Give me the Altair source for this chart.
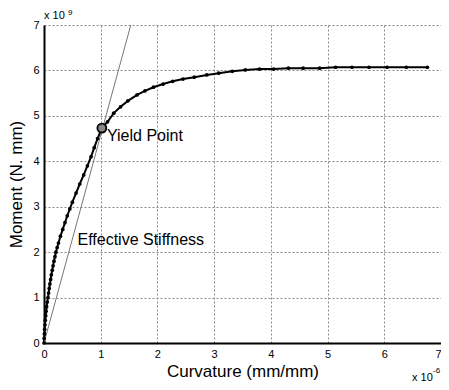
import altair as alt
import pandas as pd

# Moment-curvature curve (x in 1e-6 mm/mm, y in 1e9 N.mm)
curv = [0, 0.003, 0.007, 0.012, 0.017, 0.023, 0.03, 0.037, 0.046, 0.057, 0.07,
        0.081, 0.092, 0.104, 0.117, 0.13, 0.145, 0.16, 0.176, 0.193, 0.21,
        0.232, 0.255, 0.29, 0.33, 0.37, 0.41, 0.455, 0.50, 0.565, 0.63, 0.70,
        0.765, 0.83, 0.885, 0.945, 1.02,
        1.12, 1.23, 1.35, 1.48, 1.64, 1.78, 1.93, 2.10, 2.27, 2.45, 2.65, 2.87,
        3.08, 3.32, 3.55, 3.80, 4.05, 4.31, 4.57, 4.86, 5.14, 5.43, 5.73, 6.05,
        6.39, 6.76]
moment = [0, 0.1, 0.2, 0.3, 0.4, 0.5, 0.6, 0.7, 0.8, 0.9, 1.0,
          1.1, 1.2, 1.3, 1.4, 1.5, 1.6, 1.7, 1.8, 1.9, 2.0,
          2.1, 2.2, 2.35, 2.5, 2.65, 2.8, 2.95, 3.1, 3.3, 3.5, 3.7,
          3.9, 4.1, 4.3, 4.5, 4.73,
          4.87, 5.06, 5.20, 5.33, 5.46, 5.55, 5.63, 5.70, 5.76, 5.81, 5.85, 5.90,
          5.94, 5.98, 6.01, 6.03, 6.03, 6.05, 6.05, 6.05, 6.07, 6.07, 6.07, 6.07,
          6.07, 6.07]

yield_x = [1.02]
yield_y = [4.73]

stiff_x = [0, 1.53]
stiff_y = [0, 7]

ticks = [0, 1, 2, 3, 4, 5, 6, 7]

FONT = "Liberation Sans"

df = pd.DataFrame({"x": curv, "y": moment, "i": list(range(len(curv)))})
dfy = pd.DataFrame({"x": yield_x, "y": yield_y})
dfs = pd.DataFrame({"x": stiff_x, "y": stiff_y})

xs = alt.Scale(domain=[0, 7], nice=False)
ys = alt.Scale(domain=[0, 7], nice=False)

common = dict(grid=True, ticks=False, format="d",
              domainColor="black", domainWidth=2, labelFontSize=11, labelColor="black",
              labelFont=FONT, titleFont=FONT, titleFontSize=17, titleFontWeight="normal",
              titleColor="black", labelPadding=5,
              gridColor="#888888", gridDash=[2, 2], gridWidth=1, labelFlush=False)
xax = alt.Axis(values=ticks, title="Curvature (mm/mm)", titlePadding=4,
               labelAlign={"expr": "datum.value == 7 ? 'right' : 'center'"}, **common)
yax = alt.Axis(values=ticks, title="Moment (N. mm)", titlePadding=7, **common)

X = alt.X("x:Q", scale=xs)
Y = alt.Y("y:Q", scale=ys)

stiff = alt.Chart(dfs).mark_line(color="#777777", strokeWidth=1).encode(x=X, y=Y)

line = alt.Chart(df).mark_line(color="black", strokeWidth=2).encode(
    x=alt.X("x:Q", scale=xs, axis=xax), y=alt.Y("y:Q", scale=ys, axis=yax), order="i:Q")

pts = alt.Chart(df).mark_circle(color="black", size=14, opacity=1).encode(x=X, y=Y)

yld = alt.Chart(dfy).mark_point(shape="circle", size=80, stroke="black",
                                strokeWidth=1.8, fill="#888888", filled=False,
                                opacity=1, fillOpacity=1).encode(x=X, y=Y)

ann = pd.DataFrame({"x": [1.11, 0.59], "y": [4.56, 2.27],
                    "t": ["Yield Point", "Effective Stiffness"]})
anntext = alt.Chart(ann).mark_text(align="left", baseline="middle", fontSize=16,
                                   font=FONT, color="black").encode(x=X, y=Y, text="t:N")

# exponent labels
e1 = alt.Chart(pd.DataFrame({"x": [0], "y": [7], "t": ["x 10"]})).mark_text(
    align="left", baseline="middle", fontSize=11, font=FONT, color="black",
    dx=0, dy=-9).encode(x=X, y=Y, text="t:N")
e1s = alt.Chart(pd.DataFrame({"x": [0], "y": [7], "t": ["9"]})).mark_text(
    align="left", baseline="middle", fontSize=8, font=FONT, color="black",
    dx=24, dy=-12).encode(x=X, y=Y, text="t:N")
e2 = alt.Chart(pd.DataFrame({"x": [7], "y": [0], "t": ["x 10"]})).mark_text(
    align="left", baseline="middle", fontSize=11, font=FONT, color="black",
    dx=-29, dy=35).encode(x=X, y=Y, text="t:N")
e2s = alt.Chart(pd.DataFrame({"x": [7], "y": [0], "t": ["-6"]})).mark_text(
    align="left", baseline="middle", fontSize=8, font=FONT, color="black",
    dx=-8, dy=28).encode(x=X, y=Y, text="t:N")

chart = alt.layer(line, stiff, pts, yld, anntext, e1, e1s, e2, e2s).properties(
    width=397, height=318,
    padding={"left": 36, "top": 17, "right": 0, "bottom": 39},
    autosize=alt.AutoSizeParams(type="none"),
    background="white",
).configure_view(stroke=None)

chart.save("out.html", embed_options={"renderer": "svg", "actions": False})
